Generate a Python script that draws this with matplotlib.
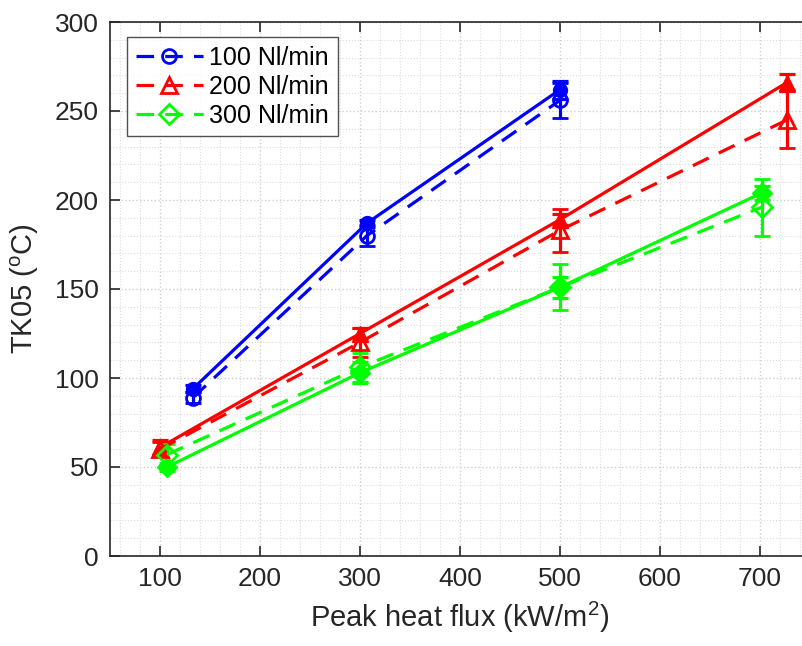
import matplotlib
matplotlib.use("Agg")
import matplotlib.pyplot as plt
from matplotlib.ticker import MultipleLocator
from matplotlib.lines import Line2D

plt.rcParams['font.family'] = ['Liberation Sans', 'DejaVu Sans']
plt.rcParams['mathtext.fontset'] = 'custom'
plt.rcParams['mathtext.rm'] = 'Liberation Sans'

labels = ['100 Nl/min', '200 Nl/min', '300 Nl/min']
colors = ['#0000ff', '#ff0000', '#00ff00']
markers = ['o', '^', 'D']

# x positions (peak heat flux, kW/m^2)
x_100 = [133, 307, 500]
x_200 = [100, 300, 500, 727]
x_300 = [107, 300, 500, 702]

# solid series (filled markers)
y100_solid = [94, 187, 262]
e100_solid = [2, 2, 5]
y200_solid = [61, 125, 189, 266]
e200_solid = [4, 3, 3, 5]
y300_solid = [50, 103, 151, 204]
e300_solid = [2, 6, 6, 4]

# dashed series (open markers)
y100_dash = [89, 180, 256]
e100_dash = [3, 6, 10]
y200_dash = [60, 120, 183, 245]
e200_dash = [4, 8, 12, 16]
y300_dash = [57, 106, 151, 196]
e300_dash = [6, 8, 13, 16]

fig = plt.figure(figsize=(8.02, 6.46), dpi=100)
ax = fig.add_axes([110/802, (646-556)/646, 700/802, (556-22)/646])

solid = [(x_100, y100_solid, e100_solid), (x_200, y200_solid, e200_solid), (x_300, y300_solid, e300_solid)]
dashed = [(x_100, y100_dash, e100_dash), (x_200, y200_dash, e200_dash), (x_300, y300_dash, e300_dash)]

msize = [10, 12, 10]
dash = (0, (5.5, 3.5))
for i in range(3):
    xs, ys, es = solid[i]
    ax.errorbar(xs, ys, yerr=es, color=colors[i], marker=markers[i], ms=msize[i],
                mfc=colors[i], mec=colors[i], lw=2.3, ls='-', capsize=6, capthick=2.3,
                elinewidth=2.3, zorder=3)
handles = []
for i in range(3):
    xs, ys, es = dashed[i]
    ax.errorbar(xs, ys, yerr=es, color=colors[i], marker=markers[i], ms=msize[i],
                mfc='none', mec=colors[i], mew=2, lw=2.3, ls=dash, capsize=6,
                capthick=2.3, elinewidth=2.3, zorder=4)
    handles.append(Line2D([], [], color=colors[i], marker=markers[i], ms=msize[i],
                          mfc='none', mec=colors[i], mew=2, lw=2.3, ls=dash))

ax.set_xlim(50, 750)
ax.set_ylim(0, 300)
ax.xaxis.set_major_locator(MultipleLocator(100))
ax.xaxis.set_minor_locator(MultipleLocator(20))
ax.yaxis.set_major_locator(MultipleLocator(50))
ax.yaxis.set_minor_locator(MultipleLocator(10))
ax.grid(True, which='major', color='#cfcfcf', ls=':', lw=1.0)
ax.grid(True, which='minor', color='#dddddd', ls=':', lw=0.8)
ax.set_axisbelow(True)

ax.tick_params(which='major', direction='in', length=7, width=1.2, top=True, right=False,
               labelsize=19, colors='#262626', pad=8)
ax.tick_params(which='minor', length=0, top=False)
for s in ['left', 'bottom', 'top']:
    ax.spines[s].set_color('#262626')
    ax.spines[s].set_linewidth(1.2)
ax.spines['right'].set_visible(False)

ax.set_xlabel('Peak heat flux (kW/m$^2$)', fontsize=21, color='#262626', labelpad=6)
ax.set_ylabel('TK05 ($^{\\mathrm{o}}$C)', fontsize=21, color='#262626', labelpad=10)

leg = ax.legend(handles=handles, labels=labels, loc='upper left', bbox_to_anchor=(0.024, 0.972),
                fontsize=18, frameon=True, fancybox=False, edgecolor='#262626',
                handlelength=2.7, handletextpad=0.25, borderpad=0.35, labelspacing=0.2,
                borderaxespad=0)
leg.get_frame().set_linewidth(1.0)

fig.savefig('out.png', dpi=100)
